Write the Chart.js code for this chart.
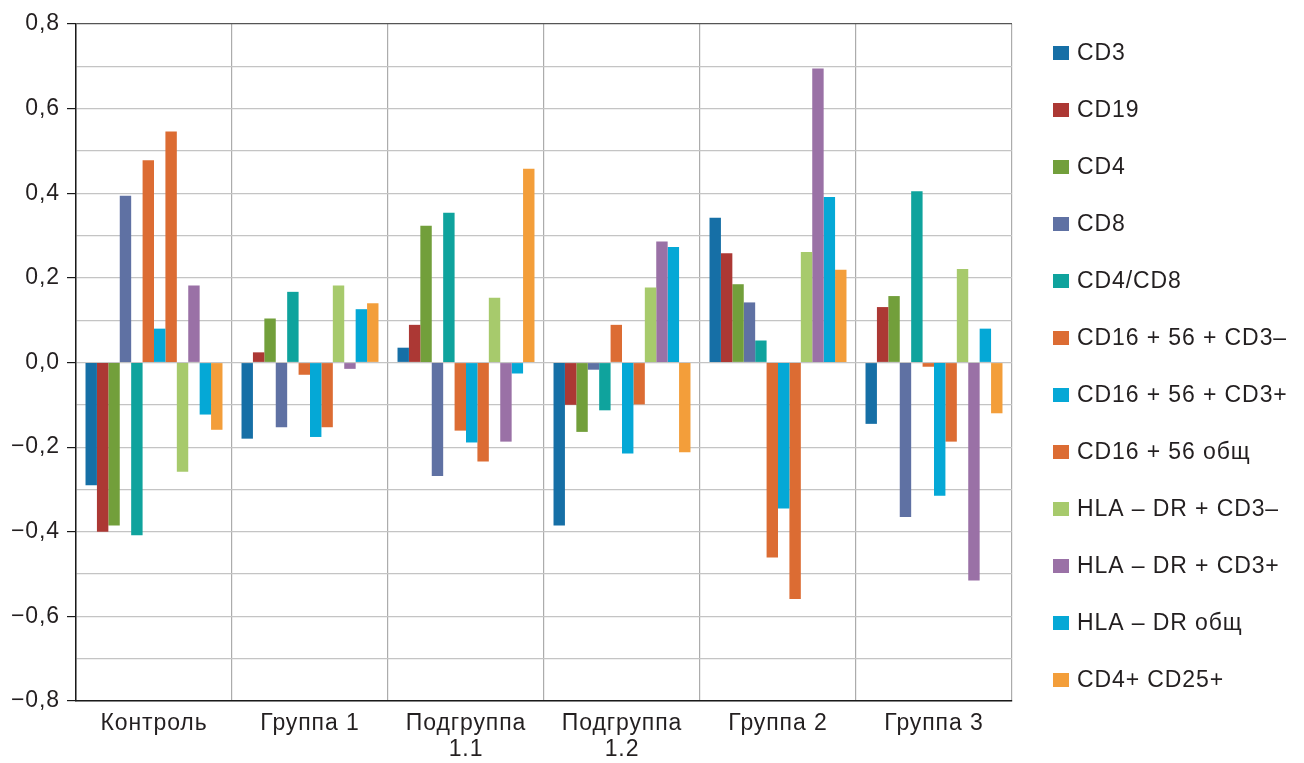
<!DOCTYPE html>
<html>
<head>
<meta charset="utf-8">
<script src="https://cdn.jsdelivr.net/npm/chart.js@4"></script>
<style>
  html, body { margin: 0; padding: 0; background: #ffffff; }
  #wrap { width: 1304px; height: 763px; position: relative; }
</style>
</head>
<body>
<div id="wrap"><canvas id="chart"></canvas></div>
<script>
// Groups along the x axis
const categories = ['Контроль', 'Группа 1', ['Подгруппа', '1.1'], ['Подгруппа', '1.2'], 'Группа 2', 'Группа 3'];

// Y axis tick values and their labels
const yTickValues = [-0.8, -0.6, -0.4, -0.2, 0.0, 0.2, 0.4, 0.6, 0.8];
const yTickLabels = ['−0,8', '−0,6', '−0,4', '−0,2', '0,0', '0,2', '0,4', '0,6', '0,8'];

// Series names (legend order)
const seriesNames = ['CD3', 'CD19', 'CD4', 'CD8', 'CD4/CD8', 'CD16 + 56 + CD3–', 'CD16 + 56 + CD3+',
  'CD16 + 56 общ', 'HLA – DR + CD3–', 'HLA – DR + CD3+', 'HLA – DR общ', 'CD4+ CD25+'];

// Values per series, one per group
const cd3        = [-0.29,  -0.18,   0.035, -0.385,  0.342, -0.145];
const cd19       = [-0.40,   0.024,  0.089, -0.10,   0.258,  0.131];
const cd4        = [-0.385,  0.104,  0.323, -0.164,  0.185,  0.157];
const cd8        = [ 0.394, -0.153, -0.268, -0.017,  0.142, -0.365];
const cd4cd8     = [-0.408,  0.167,  0.354, -0.113,  0.052,  0.405];
const nkMinus    = [ 0.478, -0.029, -0.161,  0.089, -0.461, -0.010];
const nkPlus     = [ 0.080, -0.176, -0.189, -0.215, -0.345, -0.315];
const nkTotal    = [ 0.546, -0.153, -0.234, -0.099, -0.559, -0.187];
const hlaMinus   = [-0.258,  0.182,  0.153,  0.177,  0.261,  0.221];
const hlaPlus    = [ 0.182, -0.015, -0.187,  0.286,  0.695, -0.515];
const hlaTotal   = [-0.123,  0.126, -0.026,  0.273,  0.391,  0.080];
const cd4cd25    = [-0.159,  0.140,  0.458, -0.212,  0.219, -0.120];

const seriesValues = [cd3, cd19, cd4, cd8, cd4cd8, nkMinus, nkPlus, nkTotal, hlaMinus, hlaPlus, hlaTotal, cd4cd25];
const seriesColors = ['#166fa6', '#ac3834', '#729f3b', '#5f71a3', '#0fa39d', '#dc6c33', '#05a8d6',
  '#dc6c33', '#a7ca6c', '#9a71a6', '#05a8d6', '#f39e3a'];

const FONT = "'Liberation Sans', Arial, Helvetica, sans-serif";
const TEXT = '#231f20';
const TRACKING = '0.9px';

// Slightly tracked lettering for all chart text
const tracking = {
  id: 'tracking',
  beforeLayout(chart) { chart.ctx.letterSpacing = TRACKING; },
  beforeDraw(chart) { chart.ctx.letterSpacing = TRACKING; }
};

// Legend drawn to the right of the plot, one entry per row
const sideLegend = {
  id: 'sideLegend',
  afterDraw(chart) {
    const ctx = chart.ctx;
    const x0 = chart.chartArea.right + 41;
    const y0 = 53;
    const step = 57;
    ctx.save();
    ctx.letterSpacing = TRACKING;
    ctx.font = '23px ' + FONT;
    ctx.textBaseline = 'middle';
    ctx.textAlign = 'left';
    chart.data.datasets.forEach((ds, i) => {
      const cy = y0 + i * step;
      ctx.fillStyle = ds.backgroundColor;
      ctx.fillRect(x0, cy - 7, 16, 14);
      ctx.fillStyle = TEXT;
      ctx.fillText(ds.label, x0 + 24, cy + 1);
    });
    ctx.restore();
  }
};

const datasets = seriesNames.map((name, i) => ({
  label: name,
  data: seriesValues[i],
  backgroundColor: seriesColors[i],
  borderWidth: 0,
  barPercentage: 1.0,
  categoryPercentage: 0.878
}));

const isLabelled = v => Math.abs(Math.round(v * 10)) % 2 === 0;

new Chart(document.getElementById('chart'), {
  type: 'bar',
  data: { labels: categories, datasets },
  plugins: [tracking, sideLegend],
  options: {
    responsive: true,
    maintainAspectRatio: false,
    animation: false,
    layout: { padding: { top: 24, right: 292, bottom: 0, left: 0 } },
    plugins: {
      legend: { display: false },
      tooltip: { enabled: false }
    },
    scales: {
      x: {
        offset: true,
        grid: {
          offset: true,
          drawTicks: false,
          color: ctx => (ctx.index === categories.length ? '#555555' : '#acacac'),
          lineWidth: 1.2
        },
        border: { color: '#1a1a1a', width: 1.5 },
        ticks: {
          padding: 9,
          color: TEXT,
          font: { family: FONT, size: 23, lineHeight: 1.15 },
          maxRotation: 0,
          autoSkip: false
        },
        afterFit(scale) { scale.height = 62; }
      },
      y: {
        min: -0.8,
        max: 0.8,
        border: { color: '#1a1a1a', width: 1.5 },
        grid: {
          color: ctx => {
            const v = ctx.tick ? ctx.tick.value : 0;
            if (Math.abs(v - 0.8) < 1e-6) return '#555555';
            return '#c4c4c4';
          },
          lineWidth: 1.2,
          tickLength: 9,
          tickColor: ctx => (ctx.tick && isLabelled(ctx.tick.value) ? '#1a1a1a' : 'rgba(0,0,0,0)')
        },
        ticks: {
          stepSize: 0.1,
          padding: 7,
          color: TEXT,
          font: { family: FONT, size: 23 },
          callback: value => {
            const idx = yTickValues.findIndex(t => Math.abs(t - value) < 1e-6);
            return idx >= 0 ? yTickLabels[idx] : '';
          }
        },
        afterFit(scale) { scale.width = 76; }
      }
    }
  }
});
</script>
</body>
</html>
